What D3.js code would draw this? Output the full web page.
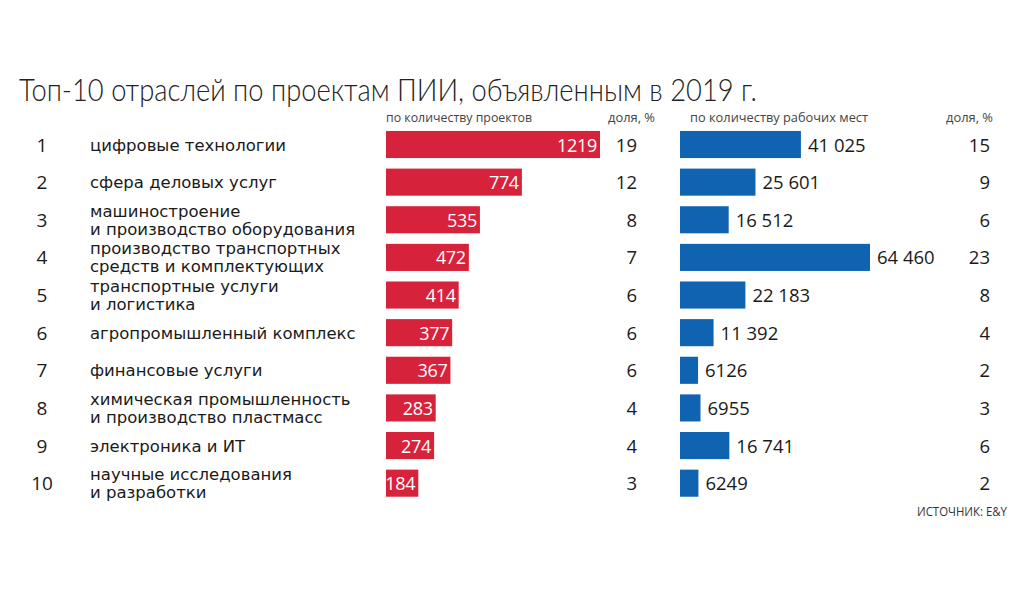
<!DOCTYPE html>
<html>

<head>
    <meta charset="utf-8">
    <title>Топ-10 отраслей по проектам ПИИ</title>
    <script src="https://d3js.org/d3.v7.min.js"></script>
    <style>
        body {
            margin: 0;
            background: #fff;
        }

        text {
            fill: #1a1a1a;
        }
    </style>
</head>

<body>
    <div id="svg"></div>
    <script>
        // data
        var ranks = [1, 2, 3, 4, 5, 6, 7, 8, 9, 10];
        var industries = [
            ["цифровые технологии"],
            ["сфера деловых услуг"],
            ["машиностроение", "и производство оборудования"],
            ["производство транспортных", "средств и комплектующих"],
            ["транспортные услуги", "и логистика"],
            ["агропромышленный комплекс"],
            ["финансовые услуги"],
            ["химическая промышленность", "и производство пластмасс"],
            ["электроника и ИТ"],
            ["научные исследования", "и разработки"]
        ];
        var projects = [1219, 774, 535, 472, 414, 377, 367, 283, 274, 184];
        var projectShare = [19, 12, 8, 7, 6, 6, 6, 4, 4, 3];
        var jobs = [41025, 25601, 16512, 64460, 22183, 11392, 6126, 6955, 16741, 6249];
        var jobShare = [15, 9, 6, 23, 8, 4, 2, 3, 6, 2];

        var width = 1024, height = 600;
        var red = "#d7223b", blue = "#0f63b1";

        var svg = d3.select("#svg")
            .append("svg")
            .attr("width", width)
            .attr("height", height);

        var y = d3.scaleBand()
            .domain(ranks)
            .range([125.7, 502])
            .paddingInner(0.28)
            .paddingOuter(0.14);

        var xProj = d3.scaleLinear().domain([0, 1219]).range([386, 600]);
        var xJobs = d3.scaleLinear().domain([0, 64460]).range([680, 870]);

        var fmt = function (v) {
            return v < 10000 ? String(v) : d3.format(",")(v).replace(/,/g, " ");
        };

        // title
        svg.append("text")
            .attr("x", 19).attr("y", 101)
            .style("font-family", "Lato, 'Open Sans'")
            .style("font-weight", 300)
            .style("font-size", "31px")
            .style("fill", "#222")
            .attr("textLength", 738)
            .attr("lengthAdjust", "spacingAndGlyphs")
            .text("Топ-10 отраслей по проектам ПИИ, объявленным в 2019 г.");

        // column headers
        var headers = [
            { x: 386, a: "start", t: "по количеству проектов", w: 146 },
            { x: 655, a: "end", t: "доля, %", w: 47 },
            { x: 690, a: "start", t: "по количеству рабочих мест", w: 178 },
            { x: 993, a: "end", t: "доля, %", w: 47 }
        ];
        svg.selectAll(".hdr")
            .data(headers).enter()
            .append("text")
            .attr("x", function (d) { return d.x; })
            .attr("y", 122)
            .attr("text-anchor", function (d) { return d.a; })
            .style("font-family", "Open Sans")
            .style("font-size", "13px")
            .style("fill", "#444")
            .attr("textLength", function (d) { return d.w; })
            .attr("lengthAdjust", "spacingAndGlyphs")
            .text(function (d) { return d.t; });

        var rows = svg.selectAll(".row")
            .data(ranks).enter()
            .append("g")
            .attr("class", "row")
            .attr("transform", function (d) { return "translate(0," + (y(d) + y.bandwidth() / 2) + ")"; });

        // rank number
        rows.append("text")
            .attr("x", 42)
            .attr("y", 7)
            .attr("text-anchor", "middle")
            .style("font-family", "Open Sans")
            .style("font-size", "19px")
            .text(function (d) { return d; });

        // industry label (one or two lines)
        rows.each(function (d, i) {
            var lines = industries[i];
            var g = d3.select(this);
            var y0 = lines.length == 1 ? 6 : -3;
            lines.forEach(function (l, k) {
                g.append("text")
                    .attr("x", 90)
                    .attr("y", y0 + k * 18)
                    .style("font-family", "DejaVu Sans")
                    .style("font-size", "16.5px")
                    .text(l);
            });
        });

        // project bars
        rows.append("rect")
            .attr("x", xProj(0))
            .attr("y", -y.bandwidth() / 2)
            .attr("width", function (d, i) { return xProj(projects[i]) - xProj(0); })
            .attr("height", y.bandwidth())
            .style("fill", red);

        rows.append("text")
            .attr("x", function (d, i) { return xProj(projects[i]) - 3; })
            .attr("y", 7)
            .attr("text-anchor", "end")
            .style("font-family", "Open Sans")
            .style("font-size", "18px")
            .style("letter-spacing", "-0.3px")
            .style("fill", "#fff")
            .text(function (d, i) { return projects[i]; });

        rows.append("text")
            .attr("x", 637)
            .attr("y", 7)
            .attr("text-anchor", "end")
            .style("font-family", "Open Sans")
            .style("font-size", "18.5px")
            .text(function (d, i) { return projectShare[i]; });

        // job bars
        rows.append("rect")
            .attr("x", xJobs(0))
            .attr("y", -y.bandwidth() / 2)
            .attr("width", function (d, i) { return xJobs(jobs[i]) - xJobs(0); })
            .attr("height", y.bandwidth())
            .style("fill", blue);

        rows.append("text")
            .attr("x", function (d, i) { return xJobs(jobs[i]) + 7; })
            .attr("y", 7)
            .style("font-family", "Open Sans")
            .style("font-size", "18.5px")
            .text(function (d, i) { return fmt(jobs[i]); });

        rows.append("text")
            .attr("x", 990)
            .attr("y", 7)
            .attr("text-anchor", "end")
            .style("font-family", "Open Sans")
            .style("font-size", "18.5px")
            .text(function (d, i) { return jobShare[i]; });

        // source
        svg.append("text")
            .attr("x", 1007).attr("y", 516)
            .attr("text-anchor", "end")
            .style("font-family", "Open Sans")
            .style("font-size", "12px")
            .style("fill", "#333")
            .attr("textLength", 90)
            .attr("lengthAdjust", "spacingAndGlyphs")
            .text("ИСТОЧНИК: E&Y");
    </script>

</body>

</html>
